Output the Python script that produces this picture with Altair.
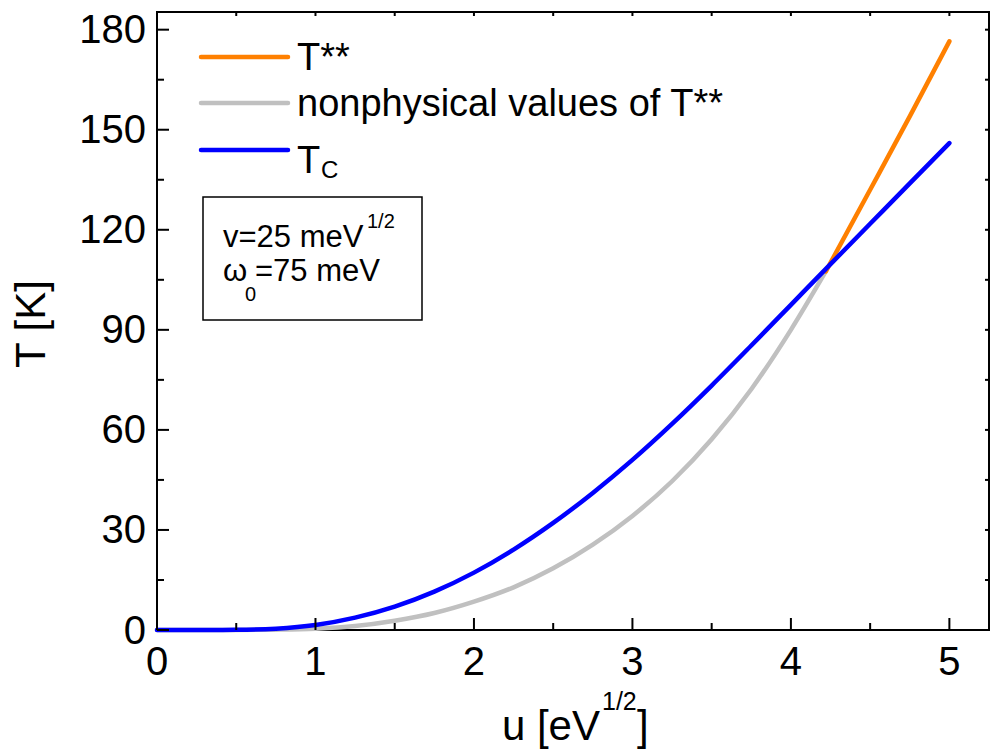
import altair as alt
import pandas as pd

# ---- data ----
u_tc = [0, 0.25, 0.5, 0.75, 1.0, 1.25, 1.5, 1.75, 2.0, 2.25, 2.5, 2.75, 3.0,
        3.25, 3.5, 3.75, 4.0, 4.25, 4.5, 4.75, 5.0]
t_tc = [0, 0, 0.05, 0.4, 1.5, 3.7, 7.0, 11.5, 17.2, 24.1, 32.1, 41.1, 51,
        61.8, 73.3, 85.3, 97.5, 109.7, 121.8, 133.9, 146]

u_nonphys = [0, 0.25, 0.5, 0.75, 1.0, 1.25, 1.5, 1.75, 2.0, 2.25, 2.5, 2.75,
             3.0, 3.25, 3.5, 3.75, 4.0, 4.22]
t_nonphys = [0, 0, 0, 0.1, 0.4, 1.2, 2.8, 5.1, 8.5, 12.8, 18.5, 25.6,
             34.2, 44.6, 57.2, 72.2, 90, 107.5]

u_tss = [4.22, 4.5, 4.75, 5.0]
t_tss = [107.5, 132, 154, 176.5]

x_major = [0, 1, 2, 3, 4, 5]
x_minor = [0.5, 1.5, 2.5, 3.5, 4.5]
x_labels = ["0", "1", "2", "3", "4", "5"]
y_major = [0, 30, 60, 90, 120, 150, 180]
y_minor = [15, 45, 75, 105, 135, 165]
y_labels = ["0", "30", "60", "90", "120", "150", "180"]

# ---- layout ----
W, H = 832, 618
FONT = "Liberation Sans"
xs = alt.Scale(domain=[0, 5.25], nice=False, zero=False)
ys = alt.Scale(domain=[0, 185.3], nice=False, zero=False)


def curve(u, t, color):
    df = pd.DataFrame({"u": u, "T": t})
    return alt.Chart(df).mark_line(color=color, strokeWidth=4.5, strokeCap="round",
                                   strokeJoin="round", interpolate="monotone").encode(
        x=alt.X("u:Q", scale=xs, axis=None), y=alt.Y("T:Q", scale=ys, axis=None))


def xticks(vals, y0, y1):
    return alt.Chart(pd.DataFrame({"u": vals})).mark_rule(color="black", strokeWidth=2).encode(
        x=alt.X("u:Q", scale=xs, axis=None), y=alt.value(y0), y2=alt.value(y1))


def yticks(vals, x0, x1):
    return alt.Chart(pd.DataFrame({"T": vals})).mark_rule(color="black", strokeWidth=2).encode(
        y=alt.Y("T:Q", scale=ys, axis=None), x=alt.value(x0), x2=alt.value(x1))


def text(t, x, y, size, align="left", angle=0):
    return alt.Chart(pd.DataFrame({"a": [0]})).mark_text(
        text=t, font=FONT, fontSize=size, align=align, baseline="alphabetic",
        angle=angle, color="black").encode(x=alt.value(x), y=alt.value(y))


def swatch(color, y):
    return alt.Chart(pd.DataFrame({"a": [0]})).mark_rule(
        color=color, strokeWidth=4.5, strokeCap="round").encode(
        x=alt.value(44), x2=alt.value(131), y=alt.value(y))


x_tick_labels = alt.Chart(pd.DataFrame({"u": x_major, "lab": x_labels})).mark_text(
    font=FONT, fontSize=40, align="center", baseline="alphabetic", color="black").encode(
    x=alt.X("u:Q", scale=xs, axis=None), y=alt.value(H + 45), text="lab:N")

y_tick_labels = alt.Chart(pd.DataFrame({"T": y_major, "lab": y_labels})).mark_text(
    font=FONT, fontSize=40, align="right", baseline="alphabetic", dy=13.5, color="black").encode(
    y=alt.Y("T:Q", scale=ys, axis=None), x=alt.value(-11), text="lab:N")

box = alt.Chart(pd.DataFrame({"a": [0]})).mark_rect(
    fill="white", stroke="black", strokeWidth=1.5).encode(
    x=alt.value(46), x2=alt.value(265), y=alt.value(185), y2=alt.value(308))

layers = [
    curve(u_nonphys, t_nonphys, "#C0C0C0"),
    curve(u_tss, t_tss, "#FF8000"),
    curve(u_tc, t_tc, "#0000FF"),
    xticks(x_major, H, H - 12), xticks(x_minor, H, H - 7),
    xticks(x_major + x_minor, 0, 4),
    yticks(y_major, 0, 12), yticks(y_minor, 0, 7),
    yticks(y_major + y_minor, W, W - 4),
    x_tick_labels, y_tick_labels,
    # legend
    swatch("#FF8000", 45), swatch("#C0C0C0", 91), swatch("#0000FF", 138),
    text("T**", 140, 58, 38),
    text("nonphysical values of T**", 140, 104, 38),
    text("T", 140, 161, 38),
    text("C", 164, 166, 24),
    # parameter box
    box,
    text("v=25 meV", 66, 235, 31),
    text("1/2", 210, 216, 20),
    text("\u03c9", 66, 269, 31),
    text("0", 88, 289, 20),
    text("=75 meV", 98, 269, 31),
    # axis titles
    text("u [eV", 443, 728, 42, align="right"),
    text("1/2", 445, 698, 25),
    text("]", 480, 728, 42),
    text("T [K]", -112, 312, 42, align="center", angle=270),
]

chart = alt.layer(*layers).properties(
    width=W, height=H,
    autosize=alt.AutoSizeParams(type="none"),
    padding={"left": 157, "top": 12, "right": 4, "bottom": 119},
    background="white",
).configure_view(stroke="black", strokeWidth=2)

chart.save("out.html", embed_options={"renderer": "svg", "actions": False})
